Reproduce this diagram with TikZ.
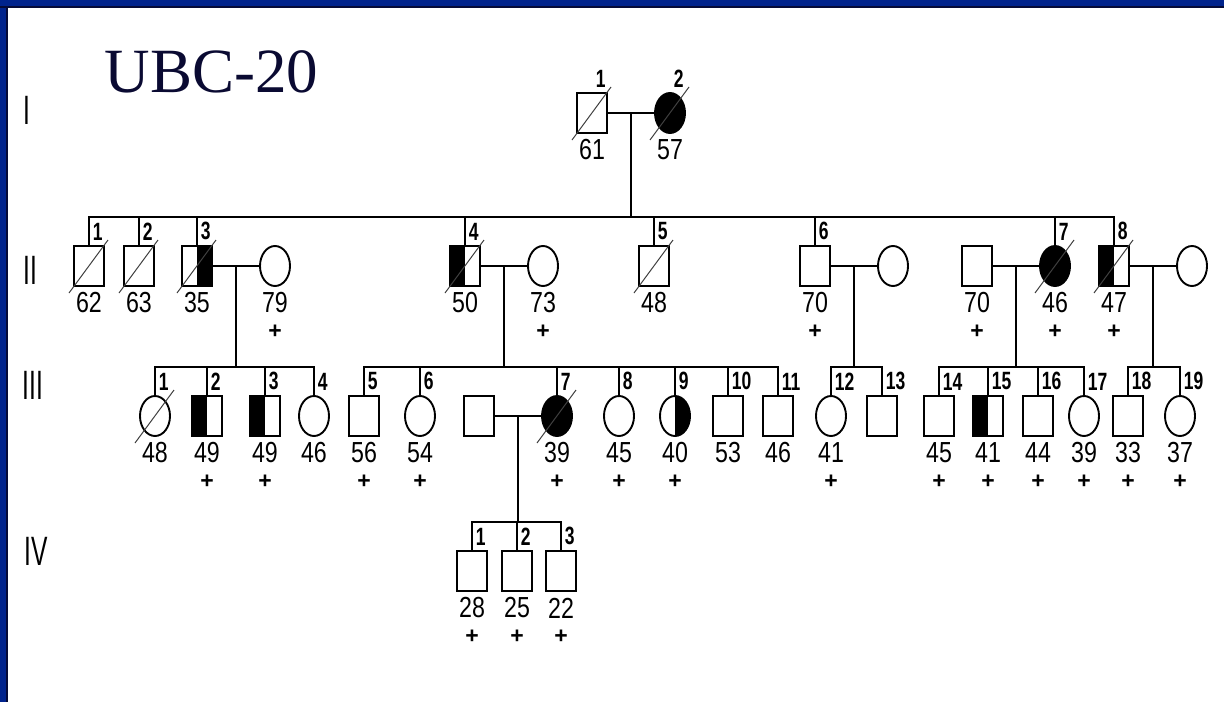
\documentclass[tikz,border=0pt]{standalone}
\usepackage{fontspec}
\usepackage{xcolor}
\usepackage{tikz}
\usetikzlibrary{positioning, shapes.geometric, calc}
\setmainfont{Liberation Sans}
\newfontfamily\titlefont{Liberation Serif}
\newfontfamily\agefont[FakeStretch=0.8]{Liberation Sans}
\newfontfamily\idfont[FakeStretch=0.7]{Liberation Sans}
\newfontfamily\genfont[FakeStretch=0.6]{Liberation Sans}
\definecolor{framenavy}{RGB}{0,35,140}
\definecolor{framedark}{RGB}{5,10,55}
\definecolor{titleink}{RGB}{10,10,50}

\begin{document}
\begin{tikzpicture}[x=1pt, y=-1pt,
    line width=1.9pt,
    male/.style={rectangle, draw, minimum width=30pt, minimum height=40pt, inner sep=0pt},
    female/.style={ellipse, draw, minimum width=30pt, minimum height=40pt, inner sep=0pt},
    affected/.style={fill=black},
    lefthalf/.style={path picture={\fill[black] (path picture bounding box.south west) rectangle (path picture bounding box.north);}},
    righthalf/.style={path picture={\fill[black] (path picture bounding box.south east) rectangle (path picture bounding box.north);}},
    idnum/.style={font=\idfont\bfseries\fontsize{25}{25}\selectfont, inner sep=0pt, anchor=south west, xshift=3pt, label distance=4pt},
    agemark/.style={font=\agefont\fontsize{29}{29}\selectfont, inner sep=0pt, anchor=center, label distance=16pt},
    plusmark/.style={font=\bfseries\fontsize{23}{23}\selectfont, inner sep=0pt, anchor=center, label distance=45pt},
    num/.style={label={[idnum]above:#1}},
    yrs/.style={label={[agemark]below:#1}},
    tested/.style={label={[plusmark]below:+}},
    link/.style={line width=1.9pt},
    slash/.style={line width=1pt, black!75},
    gen/.style={font=\genfont\fontsize{41}{41}\selectfont, inner sep=0pt},
  ]
  \useasboundingbox (0,0) rectangle (1224,702);
  % slide frame
  \fill[white] (0,0) rectangle (1224,702);
  \fill[framenavy] (0,0) rectangle (1224,7);
  \fill[framenavy] (0,0) rectangle (7,702);
  \fill[framedark] (0,6) rectangle (1224,8);
  \fill[framedark] (6,6) rectangle (8,702);

  \node[font=\titlefont\fontsize{63}{63}\selectfont, text=titleink, anchor=base west, inner sep=0pt] (title) at (104,92) {UBC-20};

  \node[gen] (genI) at (27,110) {I};
  \node[gen] (genII) at (30,270) {II};
  \node[gen] (genIII) at (33,385) {III};
  \node[gen] (genIV) at (36,551) {IV};

  % generation I
  \node[male, num=1, yrs=61] (I1) at (592,113) {};
  \node[female, affected, num=2, yrs=57] (I2) at (670,113) {};

  % generation II
  \node[male, num=1, yrs=62] (II1) at (89,266) {};
  \node[male, num=2, yrs=63] (II2) at (139,266) {};
  \node[male, righthalf, num=3, yrs=35] (II3) at (197,266) {};
  \node[female, yrs=79, tested] (II3w) at (275,266) {};
  \node[male, lefthalf, num=4, yrs=50] (II4) at (465,266) {};
  \node[female, yrs=73, tested] (II4w) at (543,266) {};
  \node[male, num=5, yrs=48] (II5) at (654,266) {};
  \node[male, num=6, yrs=70, tested] (II6) at (815,266) {};
  \node[female] (II6w) at (893,266) {};
  \node[male, yrs=70, tested] (II7h) at (977,266) {};
  \node[female, affected, num=7, yrs=46, tested] (II7) at (1055,266) {};
  \node[male, lefthalf, num=8, yrs=47, tested] (II8) at (1114,266) {};
  \node[female] (II8w) at (1192,266) {};

  % generation III
  \node[female, num=1, yrs=48] (III1) at (155,416) {};
  \node[male, lefthalf, num=2, yrs=49, tested] (III2) at (207,416) {};
  \node[male, lefthalf, num=3, yrs=49, tested] (III3) at (265,416) {};
  \node[female, num=4, yrs=46] (III4) at (314,416) {};
  \node[male, num=5, yrs=56, tested] (III5) at (364,416) {};
  \node[female, num=6, yrs=54, tested] (III6) at (420,416) {};
  \node[male] (III7h) at (479,416) {};
  \node[female, affected, num=7, yrs=39, tested] (III7) at (557,416) {};
  \node[female, num=8, yrs=45, tested] (III8) at (619,416) {};
  \node[female, righthalf, num=9, yrs=40, tested] (III9) at (675,416) {};
  \node[male, num=10, yrs=53] (III10) at (728,416) {};
  \node[male, num=11, yrs=46] (III11) at (778,416) {};
  \node[female, num=12, yrs=41, tested] (III12) at (831,416) {};
  \node[male, num=13] (III13) at (882,416) {};
  \node[male, num=14, yrs=45, tested] (III14) at (939,416) {};
  \node[male, lefthalf, num=15, yrs=41, tested] (III15) at (988,416) {};
  \node[male, num=16, yrs=44, tested] (III16) at (1038,416) {};
  \node[female, num=17, yrs=39, tested] (III17) at (1084,416) {};
  \node[male, num=18, yrs=33, tested] (III18) at (1128,416) {};
  \node[female, num=19, yrs=37, tested] (III19) at (1180,416) {};

  % generation IV
  \node[male, num=1, yrs=28, tested] (IV1) at (472,571) {};
  \node[male, num=2, yrs=25, tested] (IV2) at (517,571) {};
  \node[male, num=3, yrs=22, tested] (IV3) at (561,571) {};

  % deceased
  \foreach \p in {I1,I2,II1,II2,II3,II4,II5,II7,II8,III1,III7}
    \draw[slash] ([shift={(-20,27)}]\p.center) -- ([shift={(19,-26)}]\p.center);

  % couples and sibships
  \foreach \hus/\wif/\fam/\first/\last/\sy in {I1/I2/Z/II1/II8/217, II3/II3w/A/III1/III4/367,
      II4/II4w/B/III5/III11/367, II6/II6w/C/III12/III13/367, II7h/II7/D/III14/III17/367,
      II8/II8w/E/III18/III19/367, III7h/III7/F/IV1/IV3/522} {
    \draw[link] (\hus) -- (\wif);
    \coordinate (m\fam) at ($(\hus)!0.5!(\wif)$);
    \coordinate (s\fam) at (m\fam |- 0,\sy);
    \draw[link] (m\fam) -- (s\fam);
    \draw[link] (\first.north) |- (s\fam) -| (\last.north);
  }
  \foreach \c/\fam in {II2/Z,II3/Z,II4/Z,II5/Z,II6/Z,II7/Z,III2/A,III3/A,III6/B,III7/B,III8/B,
      III9/B,III10/B,III15/D,III16/D,IV2/F}
    \draw[link] (\c.north) -- (\c.north |- s\fam);
\end{tikzpicture}
\end{document}
